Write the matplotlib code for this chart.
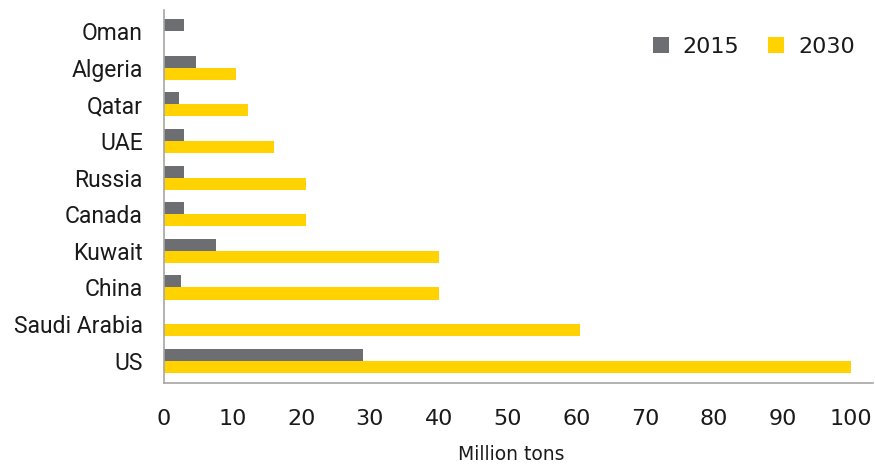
import matplotlib
matplotlib.use("Agg")
import matplotlib.pyplot as plt
import numpy as np

countries = ["Oman", "Algeria", "Qatar", "UAE", "Russia", "Canada",
             "Kuwait", "China", "Saudi Arabia", "US"]
values_2015 = [3.0, 4.7, 2.2, 3.0, 3.0, 3.0, 7.6, 2.5, 0.0, 29.0]
values_2030 = [0.0, 10.5, 12.2, 16.0, 20.7, 20.7, 40.0, 40.0, 60.6, 100.0]
series_labels = ["2015", "2030"]
x_ticks = [0, 10, 20, 30, 40, 50, 60, 70, 80, 90, 100]

GREY = "#6d6e71"
YELLOW = "#ffd200"
SPINE = "#a6a6a6"
TEXT = "#1a1a1a"

plt.rcParams["font.family"] = ["DejaVu Sans"]

fig = plt.figure(figsize=(8.75, 4.65), dpi=100)
ax = fig.add_axes([0.187, 0.177, 0.811, 0.801])

y = np.arange(len(countries))
h = 0.33
ax.barh(y - h / 2, values_2015, height=h, color=GREY, label=series_labels[0])
ax.barh(y + h / 2, values_2030, height=h, color=YELLOW, label=series_labels[1])

ax.set_ylim(len(countries) - 0.4, -0.57)
ax.set_xlim(0, 103.2)
ax.set_yticks(y)
ax.set_yticklabels(countries, family=["Roboto", "DejaVu Sans"], fontsize=16.5)
ax.set_xticks(x_ticks)

for side in ("top", "right"):
    ax.spines[side].set_visible(False)
for side in ("left", "bottom"):
    ax.spines[side].set_color(SPINE)
    ax.spines[side].set_linewidth(1.2)

ax.tick_params(axis="both", length=0, colors=TEXT)
ax.tick_params(axis="x", labelsize=16, pad=19)
ax.tick_params(axis="y", pad=15)

ax.set_xlabel("Million tons", fontsize=13.5, color=TEXT)
ax.xaxis.set_label_coords(0.4897, -0.168)

ax.legend(loc="upper right", bbox_to_anchor=(855 / 875, 1 - 37 / 465),
          bbox_transform=fig.transFigure, ncol=2, frameon=False,
          fontsize=16, handlelength=0.72, handleheight=0.72,
          columnspacing=1.3, handletextpad=0.62, borderpad=0,
          borderaxespad=0, labelcolor=TEXT)

fig.savefig("out.png", dpi=100)
